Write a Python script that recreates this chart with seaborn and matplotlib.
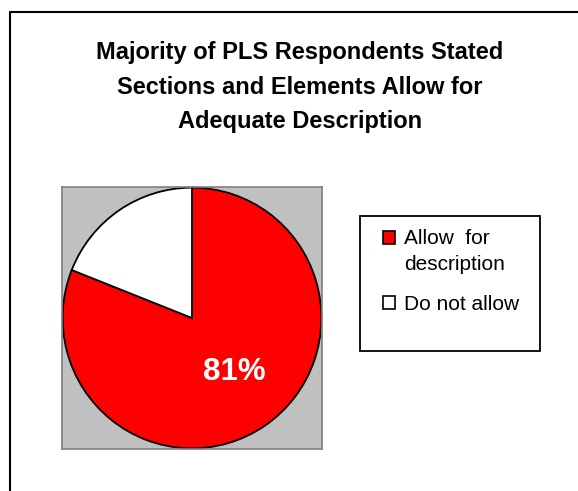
import matplotlib
matplotlib.use("Agg")
import matplotlib.pyplot as plt
import seaborn as sns
from matplotlib.patches import Rectangle, Patch
from matplotlib.lines import Line2D
from matplotlib.legend_handler import HandlerPatch

categories = ["Allow  for\ndescription", "Do not allow"]
values = [81, 19]
colors = ["#FF0000", "#FFFFFF"]
title = "Majority of PLS Respondents Stated\nSections and Elements Allow for\nAdequate Description"

sns.set_theme(style="white")
plt.rcParams['font.family'] = ['Liberation Sans', 'DejaVu Sans']
plt.rcParams['text.color'] = 'black'

W, H = 578, 491
fig = plt.figure(figsize=(W / 100, H / 100), dpi=100)
fig.patch.set_facecolor("white")

# outer frame lines (top and left only visible)
fig.add_artist(Line2D([10 / W, 1.0], [1 - 12 / H, 1 - 12 / H], color="black", lw=1.5, transform=fig.transFigure))
fig.add_artist(Line2D([10 / W, 10 / W], [1 - 12 / H, 0.0], color="black", lw=1.5, transform=fig.transFigure))

fig.text(300 / W, 1 - 87 / H, title, ha="center", va="center", fontsize=17,
         fontweight="bold", linespacing=1.62, color="black")

ax = fig.add_axes([62 / W, 1 - 449 / H, 260 / W, 262 / H])
wedges, texts, autotexts = ax.pie(
    values, colors=colors, startangle=90, counterclock=False, radius=1.0,
    wedgeprops=dict(edgecolor="black", linewidth=1.3),
    autopct=lambda p: f"{p:.0f}%" if p > 50 else "",
    pctdistance=0.5, textprops=dict(color="white", fontsize=22.5, fontweight="bold"))
px, py = autotexts[0].get_position()
autotexts[0].set_position((px + 0.045, py))
ax.set_frame_on(True)
ax.set_facecolor("#C0C0C0")
for s in ax.spines.values():
    s.set_visible(True)
    s.set_color("#808080")
    s.set_linewidth(1.2)
ax.set_xlim(-1.005, 1.005)
ax.set_ylim(-1.005, 1.005)
ax.set_aspect("auto")
ax.set_xticks([])
ax.set_yticks([])


class TopHandler(HandlerPatch):
    def __init__(self, shift, **kw):
        super().__init__(**kw)
        self.shift = shift

    def create_artists(self, legend, orig_handle, xdescent, ydescent, width, height, fontsize, trans):
        p = Rectangle((-xdescent, -ydescent + self.shift * fontsize), width, height,
                      facecolor=orig_handle.get_facecolor(), edgecolor="black", lw=1.2,
                      transform=trans)
        return [p]


# legend frame
fig.add_artist(Rectangle((360 / W, 1 - 351 / H), 180 / W, 135 / H, transform=fig.transFigure,
                         facecolor="white", edgecolor="black", lw=1.3))
handles = [Patch(facecolor=c, edgecolor="black", lw=1.2) for c in colors]
leg = fig.legend(handles, categories, loc="upper left", bbox_to_anchor=(383 / W, 1 - 229 / H),
                 frameon=False, fontsize=15, handlelength=0.58, handleheight=0.58,
                 handletextpad=0.43, labelspacing=1.0, borderpad=0, borderaxespad=0,
                 handler_map={handles[0]: TopHandler(0.7), handles[1]: TopHandler(0.0)})
for t in leg.get_texts():
    t.set_linespacing(1.48)
    t.set_color("black")

fig.savefig("out.png", dpi=100)
